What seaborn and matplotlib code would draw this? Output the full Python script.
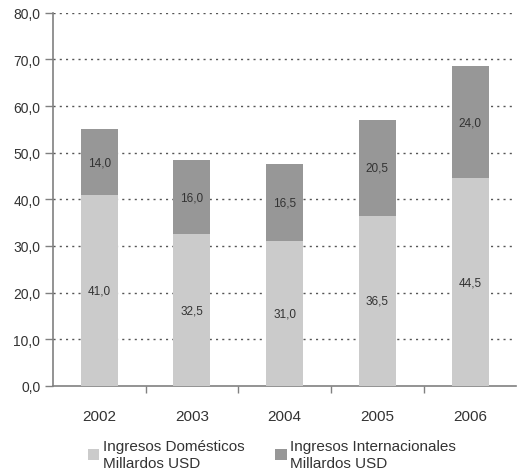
import matplotlib
matplotlib.use("Agg")
import matplotlib.pyplot as plt
import seaborn as sns
import pandas as pd
from matplotlib.patches import Patch
from matplotlib.ticker import FixedLocator

years = ["2002", "2003", "2004", "2005", "2006"]
domesticos = [41.0, 32.5, 31.0, 36.5, 44.5]
internacionales = [14.0, 16.0, 16.5, 20.5, 24.0]
yticks = [0, 10, 20, 30, 40, 50, 60, 70, 80]
label_dom = "Ingresos Domésticos\nMillardos USD"
label_int = "Ingresos Internacionales\nMillardos USD"

sns.set_theme(style="white")
plt.rcParams["font.family"] = ["Liberation Sans", "DejaVu Sans"]

totals = [d + i for d, i in zip(domesticos, internacionales)]
df = pd.DataFrame({"year": years, "dom": domesticos, "intl": internacionales, "total": totals})

light = "#cbcbcb"
dark = "#979797"
txt = "#333333"

fig = plt.figure(figsize=(5.18, 4.77), dpi=100)
ax = fig.add_axes([0.102, 0.189, 0.895, 0.782])

sns.barplot(data=df, x="year", y="total", color=dark, width=0.4, saturation=1,
            ax=ax, zorder=3, edgecolor="none")
sns.barplot(data=df, x="year", y="dom", color=light, width=0.4, saturation=1,
            ax=ax, zorder=4, edgecolor="none")

for i, (d, it) in enumerate(zip(domesticos, internacionales)):
    ax.text(i, d / 2, f"{d:.1f}".replace(".", ","), ha="center", va="center",
            fontsize=8.5, color=txt, zorder=5)
    ax.text(i, d + it / 2, f"{it:.1f}".replace(".", ","), ha="center", va="center",
            fontsize=8.5, color=txt, zorder=5)

ax.set_ylim(0, 80)
ax.set_xlim(-0.5, 4.5)
ax.set_yticks(yticks)
ax.set_yticklabels([f"{v:.1f}".replace(".", ",") for v in yticks], fontsize=10, color=txt)
ax.set_xlabel("")
ax.set_ylabel("")
ax.tick_params(axis="x", length=0, pad=17, labelsize=11, labelcolor=txt)
ax.xaxis.set_minor_locator(FixedLocator([0.5, 1.5, 2.5, 3.5]))
ax.tick_params(axis="x", which="minor", length=5, width=1, color="#808080", direction="out", bottom=True)
ax.tick_params(axis="y", length=6, width=1, color="#808080", direction="out", left=True, pad=3)

for v in yticks[1:]:
    ax.axhline(v, color="#555555", linestyle=(0, (1.5, 3)), linewidth=1.0, zorder=1)

for s in ["top", "right"]:
    ax.spines[s].set_visible(False)
for s in ["left", "bottom"]:
    ax.spines[s].set_color("#808080")
    ax.spines[s].set_linewidth(1.2)

handles = [Patch(facecolor=light, edgecolor="none", label=label_dom),
           Patch(facecolor=dark, edgecolor="none", label=label_int)]
leg = fig.legend(handles=handles, loc="center", bbox_to_anchor=(0.525, 0.045), ncol=2,
                 frameon=False, fontsize=11, handlelength=0.75, handleheight=0.75,
                 handletextpad=0.25, columnspacing=2.0, labelcolor=txt)
for t in leg.get_texts():
    t.set_linespacing(1.3)

fig.savefig("out.png", dpi=100)
